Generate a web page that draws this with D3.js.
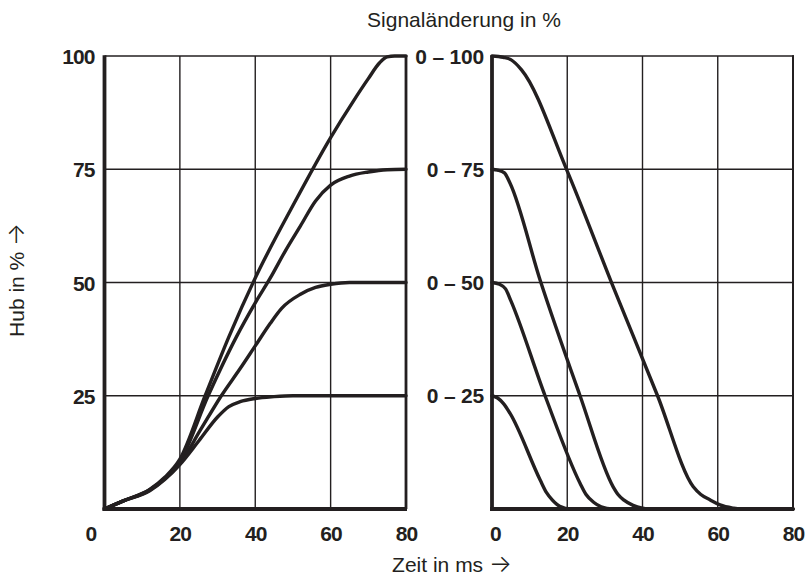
<!DOCTYPE html>
<html><head><meta charset="utf-8">
<script src="https://cdn.jsdelivr.net/npm/d3@7"></script>
<style>
html,body{margin:0;padding:0;background:#fff;}
svg{display:block;}
.tick text,.lab{font-family:"Liberation Sans",Arial,sans-serif;font-weight:bold;font-size:21px;letter-spacing:-0.9px;fill:#231f20;}
.lab{letter-spacing:-0.2px;}
.ttl{font-family:"Liberation Sans",Arial,sans-serif;font-size:21px;fill:#231f20;}
.arr{font-family:Inter,"Liberation Sans",sans-serif;font-weight:300;font-size:24px;}
</style></head><body>
<svg id="c" width="812" height="581"></svg>
<script>
// ---- data ----
const xTicks = [0, 20, 40, 60, 80];
const yTicks = [25, 50, 75, 100];
const rangeLabels = ["0 – 100", "0 – 75", "0 – 50", "0 – 25"];
const rangeLevels = [100, 75, 50, 25];

// rise curves (left panel): [time ms, stroke %]
const rise100 = [[0,0],[5,1.8],[12,4.3],[16,7],[20,11],[26.7,25],[33,38],[40,51],[50,67],[60,82],[66,90],[70,95],[73,98.5],[75,99.8],[77,100],[80,100]];
const rise75  = [[0,0],[5,1.8],[12,4.2],[16,6.8],[20,10.5],[27.5,25],[35,38],[40,45.5],[44,51],[48,57],[52,62.5],[56,68],[60,71.5],[65,73.5],[70,74.4],[75,74.9],[80,75]];
const rise50  = [[0,0],[5,1.8],[12,4.2],[16,6.7],[20,10],[25.5,17.5],[31,25],[36,31],[40,36],[44,41],[47,44.3],[52,47.4],[56,48.9],[60,49.6],[65,50],[80,50]];
const rise25  = [[0,0],[5,1.8],[12,4],[16,6.5],[20,9.8],[25,15],[30,20.3],[33,22.6],[36,23.7],[40,24.4],[45,24.8],[50,25],[80,25]];

// fall curves (right panel)
const fall100 = [[0,100],[3,99.7],[5,99.2],[7.9,96.9],[20,74.6],[32,49.5],[44,25],[53.5,4.9],[55.5,3.2],[58,2],[60.6,0.9],[64,0.2],[66,0],[80,0]];
const fall75  = [[0,75],[1.5,74.8],[3.3,74.2],[4.8,71.9],[12.8,50.5],[23.4,25],[32.2,4.9],[33.5,3.2],[35,2],[37.5,0.8],[40,0.2],[42,0],[80,0]];
const fall50  = [[0,50],[2,49.6],[3.6,48.6],[5,46],[14.1,25],[23.4,5.7],[25,3.2],[27,1.5],[29,0.5],[32,0],[80,0]];
const fall25  = [[0,25],[1.5,24.5],[3,23.3],[4.8,21.1],[12.8,6.4],[14.5,3.6],[16,2],[18,0.6],[21,0],[80,0]];

const riseCurves = [rise100, rise75, rise50, rise25];
const fallCurves = [fall100, fall75, fall50, fall25];

// ---- layout ----
const svg = d3.select("#c");
const y = d3.scaleLinear().domain([0,100]).range([509,56]);
const xL = d3.scaleLinear().domain([0,80]).range([104.5,406]);
const xR = d3.scaleLinear().domain([0,80]).range([492,793]);
const ink = "#231f20";

function panel(x, curves){
  const g = svg.append("g");
  [20,40,60].forEach(v=>g.append("line").attr("x1",x(v)).attr("x2",x(v)).attr("y1",y(0)).attr("y2",y(100)).attr("stroke",ink).attr("stroke-width",1.4));
  [25,50,75].forEach(v=>g.append("line").attr("x1",x(0)).attr("x2",x(80)).attr("y1",y(v)).attr("y2",y(v)).attr("stroke",ink).attr("stroke-width",1.4));
  g.append("line").attr("x1",x(0)).attr("x2",x(80)+1).attr("y1",y(100)).attr("y2",y(100)).attr("stroke",ink).attr("stroke-width",1.6);
  const line = d3.line().x(d=>x(d[0])).y(d=>y(d[1])).curve(d3.curveMonotoneX);
  curves.forEach(c=>g.append("path").attr("d",line(c)).attr("fill","none").attr("stroke",ink).attr("stroke-width",3.4).attr("stroke-linejoin","round").attr("stroke-linecap","round"));
  return g;
}
const gL = panel(xL, riseCurves);
const gR = panel(xR, fallCurves);

gL.append("line").attr("x1",xL(80)).attr("x2",xL(80)).attr("y1",y(100)-0.8).attr("y2",y(0)).attr("stroke",ink).attr("stroke-width",2.8);
gR.append("line").attr("x1",xR(80)).attr("x2",xR(80)).attr("y1",y(100)-0.8).attr("y2",y(0)).attr("stroke",ink).attr("stroke-width",2);
[[gL,xL],[gR,xR]].forEach(([g,x])=>{
  g.append("line").attr("x1",x(0)).attr("x2",x(0)).attr("y1",y(100)-0.8).attr("y2",y(0)+2).attr("stroke",ink).attr("stroke-width",3.8);
  g.append("line").attr("x1",x(0)-1.9).attr("x2",x(80)+1).attr("y1",y(0)).attr("y2",y(0)).attr("stroke",ink).attr("stroke-width",4.2);
});

function xAxis(x, shift0){
  const a = svg.append("g").attr("transform","translate(0,"+(y(0))+")")
    .call(d3.axisBottom(x).tickValues(xTicks).tickSize(0).tickPadding(17).tickFormat(d3.format("d")));
  a.select(".domain").remove();
  a.selectAll(".tick text").attr("dx", d=> d===0 ? shift0 : 0);
}
xAxis(xL, -14);
xAxis(xR, 3);

const ya = svg.append("g").attr("transform","translate("+(xL(0)-10)+",0)")
  .call(d3.axisLeft(y).tickValues(yTicks).tickSize(0).tickPadding(0).tickFormat(d3.format("d")));
ya.select(".domain").remove();
ya.selectAll(".tick text").attr("dy","0.36em");

svg.append("g").selectAll("text").data(rangeLabels).join("text")
  .attr("class","lab").attr("text-anchor","end")
  .attr("x", 484).attr("y",(d,i)=>y(rangeLevels[i])).attr("dy","0.36em")
  .text(d=>d);

svg.append("text").attr("class","ttl").attr("text-anchor","middle").attr("x",464).attr("y",27).text("Signaländerung in %");
const zt = svg.append("text").attr("class","ttl").attr("text-anchor","middle").attr("x",452).attr("y",572);
zt.append("tspan").text("Zeit in ms ");
zt.append("tspan").attr("class","arr").text("→");
const ht = svg.append("text").attr("class","ttl").attr("text-anchor","middle").attr("transform","translate(24,280) rotate(-90)");
ht.append("tspan").text("Hub in % ");
ht.append("tspan").attr("class","arr").text("→");
</script>
</body></html>
